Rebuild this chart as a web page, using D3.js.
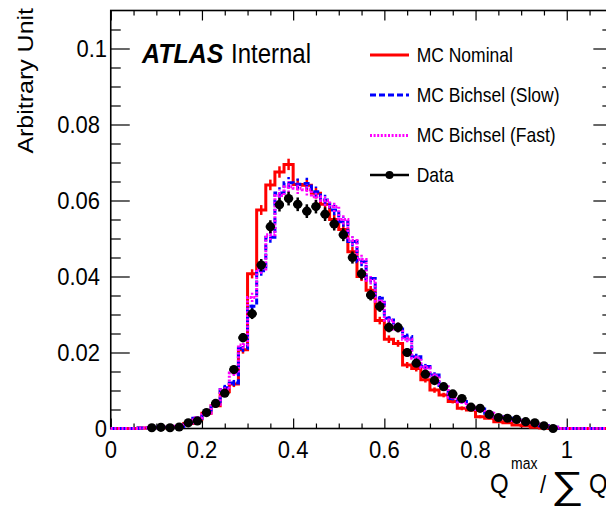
<!DOCTYPE html>
<html>
<head>
<meta charset="utf-8">
<script src="https://cdn.jsdelivr.net/npm/d3@7"></script>
<style>
  html, body { margin: 0; padding: 0; background: #fff; }
  svg { display: block; }
  text { font-family: "Liberation Sans", Arial, Helvetica, sans-serif; fill: #000; }
</style>
</head>
<body>
<svg id="chart" width="606" height="508"></svg>
<script>
// ---------------- data ----------------
const binWidth = 0.02;
const binLow = d3.range(0, 55).map(i => +(i * binWidth).toFixed(2)); // 0 .. 1.08

const mcNominal = [0,0,0,0.0001,0.0002,0.0002,0.0003,0.0005,0.0013,0.0025,
  0.0040,0.0060,0.0097,0.0117,0.0207,0.0407,0.0575,0.0641,0.0675,0.0695,
  0.0642,0.0640,0.0619,0.0590,0.0550,0.0524,0.0465,0.0400,0.0364,0.0284,
  0.0235,0.0224,0.0167,0.0158,0.0128,0.0101,0.0088,0.0071,0.0053,0.0049,
  0.0031,0.0027,0.0018,0.0015,0.0009,0.0007,0.0003,0.0001,0,0,
  0,0,0,0,0];

const mcBichselSlow = [0,0,0,0.0001,0.0002,0.0003,0.0003,0.0005,0.0014,0.0027,
  0.0040,0.0062,0.0107,0.0120,0.0211,0.0322,0.0415,0.0503,0.0620,0.0647,
  0.0643,0.0645,0.0623,0.0601,0.0575,0.0544,0.0492,0.0439,0.0395,0.0343,
  0.0290,0.0268,0.0242,0.0189,0.0163,0.0141,0.0108,0.0079,0.0071,0.0056,
  0.0051,0.0040,0.0031,0.0027,0.0022,0.0015,0.0012,0.0007,0.0003,0,
  0,0,0,0,0];

const mcBichselFast = [0,0,0,0.0001,0.0002,0.0003,0.0004,0.0006,0.0015,0.0028,
  0.0041,0.0064,0.0102,0.0146,0.0220,0.0345,0.0420,0.0510,0.0613,0.0636,
  0.0632,0.0628,0.0610,0.0600,0.0584,0.0550,0.0495,0.0445,0.0390,0.0335,
  0.0285,0.0262,0.0235,0.0185,0.0160,0.0138,0.0110,0.0082,0.0070,0.0057,
  0.0050,0.0040,0.0030,0.0026,0.0021,0.0016,0.0011,0.0006,0.0003,0,
  0,0,0,0,0];

const mcErr = [0,0,0,0.0001,0.0001,0.0001,0.0001,0.0002,0.0003,0.0004,
  0.0005,0.0006,0.0008,0.0008,0.0010,0.0012,0.0013,0.0014,0.0015,0.0015,
  0.0015,0.0015,0.0014,0.0014,0.0014,0.0013,0.0013,0.0012,0.0011,0.0010,
  0.0010,0.0009,0.0008,0.0008,0.0007,0.0007,0.0006,0.0005,0.0005,0.0004,
  0.0004,0.0003,0.0003,0.0003,0.0002,0.0002,0.0001,0.0001,0.0001,0,
  0,0,0,0,0];

const dataVals = [null,null,null,null,0.0002,0.0003,0.0002,0.0004,0.0015,0.0020,
  0.0042,0.0066,0.0093,0.0155,0.0239,0.0302,0.0430,0.0531,0.0589,0.0605,
  0.0590,0.0572,0.0584,0.0564,0.0538,0.0510,0.0450,0.0407,0.0351,0.0321,
  0.0266,0.0266,0.0200,0.0172,0.0143,0.0126,0.0110,0.0091,0.0079,0.0056,
  0.0053,0.0037,0.0029,0.0027,0.0024,0.0018,0.0015,0.0007,0.0000,null,
  null,null,null,null,null];

const dataErr = [null,null,null,null,0.0002,0.0002,0.0002,0.0002,0.0003,0.0004,
  0.0005,0.0006,0.0008,0.0010,0.0012,0.0014,0.0016,0.0017,0.0018,0.0018,
  0.0018,0.0018,0.0018,0.0018,0.0017,0.0017,0.0016,0.0015,0.0014,0.0014,
  0.0013,0.0013,0.0011,0.0010,0.0009,0.0009,0.0008,0.0008,0.0007,0.0006,
  0.0006,0.0005,0.0005,0.0004,0.0004,0.0003,0.0003,0.0002,0.0002,null,
  null,null,null,null,null];

const xMajorTicks = [0, 0.2, 0.4, 0.6, 0.8, 1.0];
const xTickLabels = ["0", "0.2", "0.4", "0.6", "0.8", "1"];
const xMinorTicks = [0.05,0.1,0.15,0.25,0.3,0.35,0.45,0.5,0.55,0.65,0.7,0.75,0.85,0.9,0.95,1.05];
const yMajorTicks = [0, 0.02, 0.04, 0.06, 0.08, 0.1];
const yTickLabels = ["0", "0.02", "0.04", "0.06", "0.08", "0.1"];
const yMinorTicks = [0.005,0.01,0.015,0.025,0.03,0.035,0.045,0.05,0.055,0.065,0.07,0.075,0.085,0.09,0.095,0.105];

const legendLabels = ["MC Nominal", "MC Bichsel (Slow)", "MC Bichsel (Fast)", "Data"];

// ---------------- layout ----------------
const SY = 1.12; // vertical stretch of text in the reference
const svg = d3.select("#chart");
const x = d3.scaleLinear().domain([0, 1.1]).range([110.75, 612.35]);
const y = d3.scaleLinear().domain([0, 0.11]).range([428.5, 10.5]);

function txt(px, py, s, size, anchor, extra) {
  return svg.append("text")
    .attr("transform", `translate(${px},${py}) scale(1,${SY})` + (extra || ""))
    .attr("font-size", size)
    .attr("text-anchor", anchor || "start")
    .text(s);
}

// ticks
const tickStroke = g => g.selectAll("line").attr("stroke", "#000").attr("stroke-width", 1.2);
function axisG(axis, tx, ty) {
  svg.append("g").attr("transform", `translate(${tx},${ty})`).call(axis)
    .call(g => g.select(".domain").remove()).call(tickStroke)
    .call(g => g.selectAll("text").remove());
}
axisG(d3.axisBottom(x).tickValues(xMajorTicks).tickSize(-10).tickFormat(""), 0, y(0));
axisG(d3.axisBottom(x).tickValues(xMinorTicks).tickSize(-5).tickFormat(""), 0, y(0));
axisG(d3.axisTop(x).tickValues(xMajorTicks).tickSize(-10).tickFormat(""), 0, y(0.11));
axisG(d3.axisTop(x).tickValues(xMinorTicks).tickSize(-5).tickFormat(""), 0, y(0.11));
axisG(d3.axisLeft(y).tickValues(yMajorTicks).tickSize(-19).tickFormat(""), x(0), 0);
axisG(d3.axisLeft(y).tickValues(yMinorTicks).tickSize(-10).tickFormat(""), x(0), 0);
axisG(d3.axisRight(y).tickValues(yMajorTicks).tickSize(-19).tickFormat(""), x(1.1), 0);
axisG(d3.axisRight(y).tickValues(yMinorTicks).tickSize(-10).tickFormat(""), x(1.1), 0);

// frame
svg.append("rect")
  .attr("x", x(0)).attr("y", y(0.11))
  .attr("width", x(1.1) - x(0)).attr("height", y(0) - y(0.11))
  .attr("fill", "none").attr("stroke", "#000").attr("stroke-width", 1.6);

// tick labels
xMajorTicks.forEach((v, i) => txt(x(v), 457.5, xTickLabels[i], 22, "middle"));
yMajorTicks.forEach((v, i) => {
  const lab = yTickLabels[i];
  txt(lab.length >= 4 ? 100 : 107, y(v) + 8.8, lab, 22, "end");
});

// axis titles
txt(33, 8, "Arbitrary Unit", 22.3, "end", " rotate(-90)");
txt(490, 493, "Q", 24, "start");
txt(511, 469, "max", 14, "start");
txt(540, 493, "/", 22, "start");
svg.append("text").attr("transform", "translate(551,498) scale(1.2,1)")
  .attr("font-family", "DejaVu Sans").attr("font-size", 38).text("\u2211");
txt(589, 493, "Q", 24, "start");

// ---------------- histograms ----------------
function stepPoints(vals) {
  const pts = [];
  vals.forEach((v, i) => { pts.push([binLow[i], v]); pts.push([binLow[i] + binWidth, v]); });
  return pts;
}
const line = d3.line().x(d => x(d[0])).y(d => y(d[1]));

const series = [
  { vals: mcNominal, color: "#ff0000", dash: null },
  { vals: mcBichselSlow, color: "#0000ff", dash: "6,3" },
  { vals: mcBichselFast, color: "#ff00ff", dash: "2,1.6" }
];
series.forEach(s => {
  svg.append("path").datum(stepPoints(s.vals)).attr("d", line)
    .attr("fill", "none").attr("stroke", s.color).attr("stroke-width", 3)
    .attr("stroke-dasharray", s.dash);
  svg.append("g").selectAll("line").data(s.vals.map((v, i) => ({ v, i })).filter(d => d.v > 0 && mcErr[d.i] > 0))
    .join("line")
    .attr("x1", d => x(binLow[d.i] + binWidth / 2)).attr("x2", d => x(binLow[d.i] + binWidth / 2))
    .attr("y1", d => y(d.v - mcErr[d.i])).attr("y2", d => y(d.v + mcErr[d.i]))
    .attr("stroke", s.color).attr("stroke-width", 2.5).attr("stroke-dasharray", s.dash);
});

// data points
const pts = dataVals.map((v, i) => ({ v, e: dataErr[i], c: binLow[i] + binWidth / 2 })).filter(d => d.v !== null);
const dg = svg.append("g");
dg.selectAll("line.h").data(pts).join("line").attr("class", "h")
  .attr("x1", d => x(d.c - binWidth / 2)).attr("x2", d => x(d.c + binWidth / 2))
  .attr("y1", d => y(d.v)).attr("y2", d => y(d.v))
  .attr("stroke", "#000").attr("stroke-width", 2.5);
dg.selectAll("line.v").data(pts).join("line").attr("class", "v")
  .attr("x1", d => x(d.c)).attr("x2", d => x(d.c))
  .attr("y1", d => y(d.v - d.e)).attr("y2", d => y(d.v + d.e))
  .attr("stroke", "#000").attr("stroke-width", 2.5);
dg.selectAll("circle").data(pts).join("circle")
  .attr("cx", d => x(d.c)).attr("cy", d => y(d.v)).attr("r", 4.6).attr("fill", "#000");

// ---------------- ATLAS label ----------------
svg.append("text").attr("transform", `translate(142,62.5) scale(1,${SY})`)
  .attr("font-size", 25).attr("font-weight", "bold").attr("font-style", "italic").text("ATLAS");
txt(231, 62.5, "Internal", 24, "start");

// ---------------- legend ----------------
const legY = [55, 95, 135.5, 175];
const legBase = [62.3, 101.7, 141.7, 181.7];
const lx1 = 370, lx2 = 409;
svg.append("line").attr("x1", lx1).attr("x2", lx2).attr("y1", legY[0]).attr("y2", legY[0])
  .attr("stroke", "#ff0000").attr("stroke-width", 3);
svg.append("line").attr("x1", lx1).attr("x2", lx2).attr("y1", legY[1]).attr("y2", legY[1])
  .attr("stroke", "#0000ff").attr("stroke-width", 3).attr("stroke-dasharray", "6,3");
svg.append("line").attr("x1", lx1).attr("x2", lx2).attr("y1", legY[2]).attr("y2", legY[2])
  .attr("stroke", "#ff00ff").attr("stroke-width", 3).attr("stroke-dasharray", "2,1.6");
svg.append("line").attr("x1", lx1).attr("x2", lx2).attr("y1", legY[3]).attr("y2", legY[3])
  .attr("stroke", "#000").attr("stroke-width", 2.5);
svg.append("circle").attr("cx", (lx1 + lx2) / 2).attr("cy", legY[3]).attr("r", 4).attr("fill", "#000");
legendLabels.forEach((s, i) => txt(416.7, legBase[i], s, 17.5, "start"));
</script>
</body>
</html>
